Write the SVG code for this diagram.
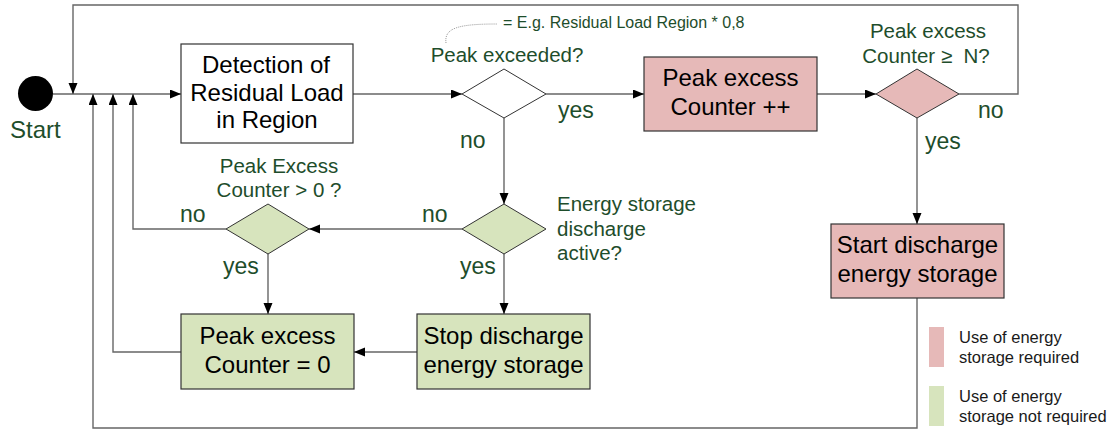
<svg xmlns="http://www.w3.org/2000/svg" width="1118" height="430" viewBox="0 0 1118 430">
<style>
.box{stroke:#333;stroke-width:1.2}
.white{fill:#fff}
.pink{fill:#e6b9b8}
.green{fill:#d7e4bd}
.bt{font-family:"Liberation Sans",Arial,sans-serif;font-size:24px;fill:#000;text-anchor:middle}
.gl{font-family:"Liberation Sans",Arial,sans-serif;font-size:20.5px;fill:#1e4d2b}
.yn{font-family:"Liberation Sans",Arial,sans-serif;font-size:23px;fill:#1e4d2b}
.note{font-family:"Liberation Sans",Arial,sans-serif;font-size:16px;fill:#1e4d2b}
.leg{font-family:"Liberation Sans",Arial,sans-serif;font-size:16.5px;fill:#1a1a1a}
.ca{fill:none;stroke:#666;stroke-width:1.4;marker-end:url(#arr)}
</style>
<defs>
<marker id="arr" markerUnits="userSpaceOnUse" markerWidth="12" markerHeight="10" refX="11" refY="4.5" orient="auto">
<path d="M0,0 L11,4.5 L0,9 z" fill="#000"/>
</marker>
</defs>
<g id="connectors">
<path class="ca" d="M53,94 H181"/>
<path class="ca" d="M353,94 H462"/>
<path class="ca" d="M546,94 H644"/>
<path class="ca" d="M817,94 H876"/>
<path class="ca" d="M959,94 H1018 V5 H73 V94"/>
<path class="ca" d="M917,118 V224"/>
<path class="ca" d="M917,298 V428 H93 V94"/>
<path class="ca" d="M504,118 V204"/>
<path class="ca" d="M504,254 V314"/>
<path class="ca" d="M462,229 H309"/>
<path class="ca" d="M226,229 H133 V94"/>
<path class="ca" d="M268,254 V314"/>
<path class="ca" d="M417,352 H354"/>
<path class="ca" d="M181,352 H113 V94"/>
<path d="M446,43 C444,28 458,24 497,24" fill="none" stroke="#999" stroke-width="1" stroke-dasharray="1,1"/>
</g>
<g id="start">
<circle cx="35.5" cy="93.5" r="17.5" fill="#000"/>
<text class="yn" x="10" y="138" style="font-size:24px">Start</text>
</g>
<g id="detection">
<rect class="box white" x="181" y="44" width="172" height="99"/>
<text class="bt" x="266" y="73">Detection of</text>
<text class="bt" x="267" y="101">Residual Load</text>
<text class="bt" x="267" y="128">in Region</text>
</g>
<g id="peak-exceeded">
<polygon class="box white" points="504,69 546,94 504,118 462,94" style="stroke-width:1"/>
<text class="gl" x="507" y="62" text-anchor="middle">Peak exceeded?</text>
<text class="note" x="503" y="28">= E.g. Residual Load Region * 0,8</text>
<text class="yn" x="558" y="118">yes</text>
<text class="yn" x="460" y="148">no</text>
</g>
<g id="counter-inc">
<rect class="box pink" x="644" y="57" width="173" height="74"/>
<text class="bt" x="730.5" y="86">Peak excess</text>
<text class="bt" x="730.5" y="115">Counter ++</text>
</g>
<g id="counter-ge-n">
<polygon class="box pink" points="917,69 959,94 917,118 876,94" style="stroke-width:1"/>
<text class="gl" x="928" y="38" text-anchor="middle">Peak excess</text>
<text class="gl" x="926" y="63" text-anchor="middle" style="white-space:pre">Counter ≥  N?</text>
<text class="yn" x="978" y="118">no</text>
<text class="yn" x="925" y="149">yes</text>
</g>
<g id="start-discharge">
<rect class="box pink" x="831" y="224" width="173" height="74"/>
<text class="bt" x="917.5" y="253">Start discharge</text>
<text class="bt" x="917.5" y="282">energy storage</text>
</g>
<g id="discharge-active">
<polygon class="box green" points="504,204 546,229 504,254 462,229" style="stroke-width:1"/>
<text class="gl" x="557" y="211">Energy storage</text>
<text class="gl" x="557" y="236">discharge</text>
<text class="gl" x="557" y="260">active?</text>
<text class="yn" x="422" y="222">no</text>
<text class="yn" x="460" y="274">yes</text>
</g>
<g id="stop-discharge">
<rect class="box green" x="417" y="314" width="173" height="75"/>
<text class="bt" x="503.5" y="344">Stop discharge</text>
<text class="bt" x="503.5" y="373">energy storage</text>
</g>
<g id="counter-gt-0">
<polygon class="box green" points="268,204 309,229 268,254 226,229" style="stroke-width:1"/>
<text class="gl" x="279" y="173" text-anchor="middle">Peak Excess</text>
<text class="gl" x="279" y="197" text-anchor="middle">Counter &gt; 0 ?</text>
<text class="yn" x="180" y="222">no</text>
<text class="yn" x="223" y="274">yes</text>
</g>
<g id="counter-reset">
<rect class="box green" x="181" y="314" width="173" height="75"/>
<text class="bt" x="267.5" y="344">Peak excess</text>
<text class="bt" x="267.5" y="373">Counter = 0</text>
</g>
<g id="legend">
<rect x="929" y="327" width="15" height="40" fill="#e6b9b8"/>
<text class="leg" x="959" y="343">Use of energy</text>
<text class="leg" x="959" y="363">storage required</text>
<rect x="929" y="386" width="15" height="40" fill="#d7e4bd"/>
<text class="leg" x="959" y="402">Use of energy</text>
<text class="leg" x="959" y="422">storage not required</text>
</g>
</svg>
